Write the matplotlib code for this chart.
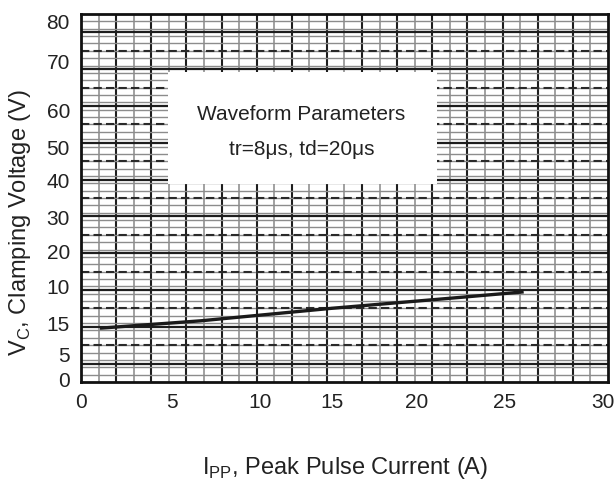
import numpy as np
import matplotlib
matplotlib.use("Agg")
import matplotlib.pyplot as plt
from matplotlib.patches import Rectangle

plt.rcParams['font.family'] = ['Liberation Sans', 'DejaVu Sans']

# curve (in the axis' linear scale)
ipp = [1.08, 6.8, 14.2, 21.6, 25.2]
vc = [11.7, 13.3, 16.0, 18.4, 19.6]

xtick_labels = ["0", "5", "10", "15", "20", "25", "30"]
# the scanned sheet's labels are not evenly spaced
xtick_pos = [0, 5.18, 10.19, 14.28, 19.12, 24.13, 29.7]
ytick_labels = ["0", "5", "15", "10", "20", "30", "40", "50", "60", "70", "80"]
ytick_pos = [0.7, 6.1, 13.0, 20.9, 28.5, 35.9, 44.1, 51.1, 59.3, 69.8, 78.5]

box_lines = ["Waveform Parameters", "tr=8\u03bcs, td=20\u03bcs"]

fig = plt.figure(figsize=(6.16, 4.85), dpi=100)
ax = fig.add_axes([0.1315, 0.2103, 0.8555, 0.7587])
ax.set_xlim(0, 30)
ax.set_ylim(0, 80)

# graph-paper grid
for i, x in enumerate(np.arange(1, 30, 1.0)):
    if i % 2 == 0:
        ax.axvline(x, color="#9a9a9a", lw=1.3, zorder=1)
    else:
        ax.axvline(x, color="#1e1e1e", lw=1.5, zorder=1)
for y in np.arange(1.6, 80, 1.6):
    ax.axhline(y, color="#8c8c8c", lw=1.0, zorder=1)
for y in np.arange(4, 80, 8):
    ax.axhline(y, color="#1e1e1e", lw=1.6, zorder=1)
for y in np.arange(8, 80, 8):
    ax.axhline(y, color="#2a2a2a", lw=1.5, ls=(0, (4, 2)), zorder=1)

# white parameter box
ax.add_patch(Rectangle((4.95, 43.0), 15.3, 24.3, facecolor="white",
                       edgecolor="none", zorder=2))
ax.text(12.55, 58.3, box_lines[0], ha="center", va="center", fontsize=15,
        color="#222222", zorder=3)
ax.text(12.55, 50.7, box_lines[1], ha="center", va="center", fontsize=15,
        color="#222222", zorder=3)

ax.plot(ipp, vc, color="#1a1a1a", lw=2.4, zorder=4, solid_capstyle="butt")

ax.set_xticks(xtick_pos)
ax.set_xticklabels(xtick_labels)
ax.set_yticks(ytick_pos)
ax.set_yticklabels(ytick_labels)
ax.tick_params(length=0, labelsize=15, colors="#222222")
ax.tick_params(axis="y", pad=8)
ax.tick_params(axis="x", pad=7)

for s in ax.spines.values():
    s.set_linewidth(2.0)
    s.set_color("#111111")
    s.set_zorder(5)

fig.text(0.032, 0.542, r"V$_\mathregular{C}$, Clamping Voltage (V)", rotation=90,
         ha="center", va="center", fontsize=17, color="#222222")
fig.text(0.56, 0.035, r"I$_\mathregular{PP}$, Peak Pulse Current (A)",
         ha="center", va="center", fontsize=17, color="#222222")

fig.savefig("out.png", dpi=100)
